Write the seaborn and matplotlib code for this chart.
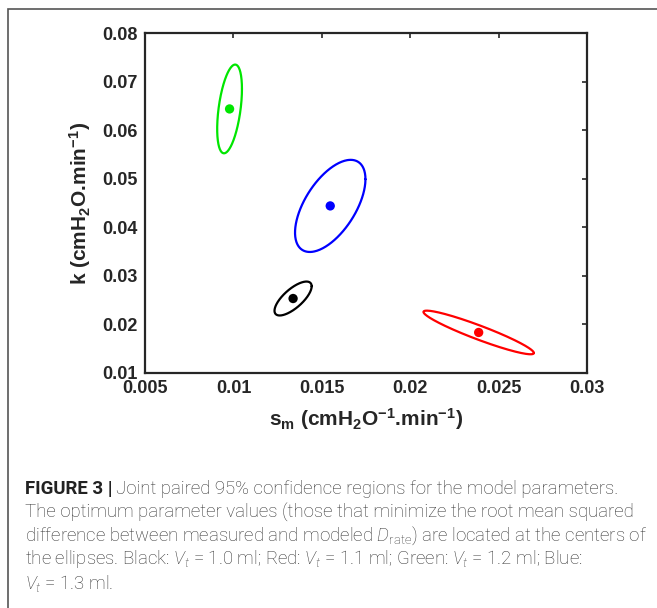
import numpy as np
import matplotlib
matplotlib.use('Agg')
import matplotlib.pyplot as plt
import seaborn as sns
import pandas as pd
from matplotlib.patches import Rectangle

# values
groups = ['Black', 'Red', 'Green', 'Blue']
colors = ['#000000', '#ff0000', '#00e600', '#0000ff']
center_sm = [0.01337, 0.02386, 0.00978, 0.01547]
center_k = [0.0253, 0.0183, 0.0644, 0.0444]
half_sm = [0.00105, 0.00312, 0.00070, 0.00199]
half_k = [0.0035, 0.0045, 0.00915, 0.0095]
corr = [0.72, -0.94, 0.45, 0.58]

xticks = [0.005, 0.01, 0.015, 0.02, 0.025, 0.03]
xticklabels = ['0.005', '0.01', '0.015', '0.02', '0.025', '0.03']
yticks = [0.01, 0.02, 0.03, 0.04, 0.05, 0.06, 0.07, 0.08]
yticklabels = ['0.01', '0.02', '0.03', '0.04', '0.05', '0.06', '0.07', '0.08']

sns.set_style('white')
plt.rcParams['font.family'] = ['Liberation Sans', 'DejaVu Sans']
plt.rcParams['mathtext.fontset'] = 'custom'
plt.rcParams['mathtext.rm'] = 'Roboto:light'
plt.rcParams['mathtext.it'] = 'Roboto:italic:light'
plt.rcParams['mathtext.bf'] = 'Liberation Sans:bold'


def ellipse(cx, cy, a, b, rho, n=300):
    t = np.linspace(0, 2 * np.pi, n)
    x = cx + a * np.cos(t)
    y = cy + b * (rho * np.cos(t) + np.sqrt(1 - rho ** 2) * np.sin(t))
    return x, y


fig = plt.figure(figsize=(6.57, 6.08), dpi=100)
ax = fig.add_axes([145 / 657, 1 - 372.7 / 608, (587.3 - 145) / 657, (372.7 - 33.3) / 608])

for i in range(len(groups)):
    ex, ey = ellipse(center_sm[i], center_k[i], half_sm[i], half_k[i], corr[i])
    ax.plot(ex, ey, color=colors[i], lw=1.6)

df = pd.DataFrame({'sm': center_sm, 'k': center_k, 'group': groups})
sns.scatterplot(data=df, x='sm', y='k', hue='group', palette=colors, s=45,
                edgecolor='none', legend=False, ax=ax, zorder=3)

ax.set_xlim(0.005, 0.03)
ax.set_ylim(0.01, 0.08)
ax.set_xticks(xticks)
ax.set_xticklabels(xticklabels)
ax.set_yticks(yticks)
ax.set_yticklabels(yticklabels)
ax.tick_params(direction='in', top=True, right=True, length=3.5, width=1.2,
               color='#262626', labelcolor='#262626', labelsize=13, pad=5)
for lab in ax.get_xticklabels() + ax.get_yticklabels():
    lab.set_fontweight('bold')
for sp in ax.spines.values():
    sp.set_linewidth(1.6)
    sp.set_color('#262626')

ax.set_xlabel(r's$_\mathregular{m}$ (cmH$_\mathregular{2}$O$^\mathregular{-1}$.min$^\mathregular{-1}$)',
              fontsize=15, fontweight='bold', color='#262626', labelpad=7)
ax.set_ylabel(r'k (cmH$_\mathregular{2}$O.min$^\mathregular{-1}$)',
              fontsize=15, fontweight='bold', color='#262626', labelpad=7)

# outer frame of the figure panel
fig.patches.append(Rectangle((8 / 657, -0.05), 1.1, 1 - 9 / 608 + 0.05,
                             transform=fig.transFigure, fill=False,
                             edgecolor='#555555', lw=1.2))

# caption
cap_color = '#333333'
cap_size = 13.4
cap_x = 25 / 657
cap_font = ['Roboto', 'DejaVu Sans']
line_y = [489, 512.5, 536, 559.5, 583]
bold = fig.text(cap_x, 1 - line_y[0] / 608, 'FIGURE 3 |', fontsize=cap_size,
                fontweight='bold', color='#222222', family=cap_font, va='center')
renderer = fig.canvas.get_renderer()
bb = bold.get_window_extent(renderer)
fig.text(bb.x1 / fig.bbox.width + 0.006, 1 - line_y[0] / 608,
         'Joint paired 95% confidence regions for the model parameters.',
         fontsize=cap_size, fontweight='light', color=cap_color,
         family=cap_font, va='center')
caption_rest = [
    'The optimum parameter values (those that minimize the root mean squared',
    r'difference between measured and modeled $\mathit{D}_\mathregular{rate}$) are located at the centers of',
    r'the ellipses. Black: $\mathit{V_t}$ = 1.0 ml; Red: $\mathit{V_t}$ = 1.1 ml; Green: $\mathit{V_t}$ = 1.2 ml; Blue:',
    r'$\mathit{V_t}$ = 1.3 ml.',
]
for yy, line in zip(line_y[1:], caption_rest):
    fig.text(cap_x, 1 - yy / 608, line, fontsize=cap_size, fontweight='light',
             color=cap_color, family=cap_font, va='center')

fig.savefig('out.png', dpi=100, facecolor='white')
